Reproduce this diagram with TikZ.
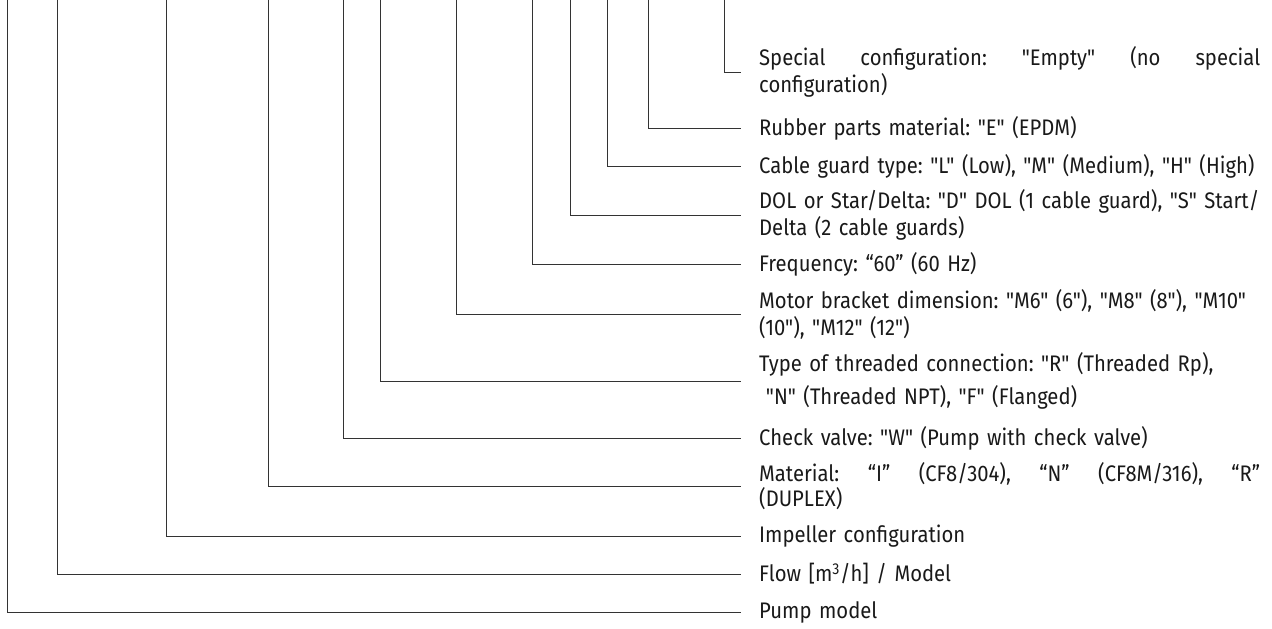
\documentclass[tikz,border=0pt]{standalone}
\usepackage{fontspec}
\setmainfont{Fira Sans}[Ligatures=TeXOff, FakeStretch=0.9]

\begin{document}
\begin{tikzpicture}[x=1pt, y=-1pt,
    lbl/.style={anchor=west, inner sep=0pt, text width=530pt, align=left,
        font=\fontsize{22.5}{27}\selectfont\frenchspacing, text=black!90},
    lead/.style={line width=0.9pt, draw=black!80}]
    \useasboundingbox (0,0) rectangle (1272,629);

    % Top ends of the leaders
    \coordinate (tpump) at (7,0);
    \coordinate (tflow) at (57,0);
    \coordinate (timp) at (166,0);
    \coordinate (tmat) at (268,0);
    \coordinate (tcheck) at (343,0);
    \coordinate (tthread) at (380,0);
    \coordinate (tmotor) at (456,0);
    \coordinate (tfreq) at (532,0);
    \coordinate (tdol) at (570,0);
    \coordinate (tcable) at (607,0);
    \coordinate (trubber) at (648,0);
    \coordinate (tspecial) at (724,0);

    % Labels
    \node[lbl] (special) at (759,72) {\makebox[501pt][l]{Special\hfill configuration:\hfill "Empty"\hfill (no\hfill special}\\configuration)};
    \node[lbl] (rubber) at (759,128) {Rubber parts material: "E" (EPDM)};
    \node[lbl] (cable) at (759,166) {Cable guard type: "L" (Low), "M" (Medium), "H" (High)};
    \node[lbl] (dol) at (759,215) {DOL or Star/Delta: "D" DOL (1 cable guard), "S" Start/\\Delta (2 cable guards)};
    \node[lbl] (freq) at (759,264) {Frequency: “60” (60 Hz)};
    \node[lbl] (motor) at (759,314) {Motor bracket dimension: "M6" (6"), "M8" (8"), "M10"\\(10"), "M12" (12")};
    \node[lbl] (thread) at (759,381) {Type of threaded connection: "R" (Threaded Rp),\\[6pt]\hspace*{0.3em}"N" (Threaded NPT), "F" (Flanged)};
    \node[lbl] (check) at (759,438) {Check valve: "W" (Pump with check valve)};
    \node[lbl] (mat) at (759,486) {\makebox[501pt][l]{Material:\hfill “I”\hfill (CF8/304),\hfill “N”\hfill (CF8M/316),\hfill “R”}\\[-2pt](DUPLEX)};
    \node[lbl] (imp) at (759,536) {Impeller configuration};
    \node[lbl] (flow) at (759,574) {Flow [m\textsuperscript{3}/h] / Model};
    \node[lbl] (pump) at (759,612) {Pump model};

    % Leaders
    \draw[lead] (tspecial) |- ([xshift=-18pt]special.west);
    \draw[lead] (trubber) |- ([xshift=-18pt]rubber.west);
    \draw[lead] (tcable) |- ([xshift=-18pt]cable.west);
    \draw[lead] (tdol) |- ([xshift=-18pt]dol.west);
    \draw[lead] (tfreq) |- ([xshift=-18pt]freq.west);
    \draw[lead] (tmotor) |- ([xshift=-18pt]motor.west);
    \draw[lead] (tthread) |- ([xshift=-18pt]thread.west);
    \draw[lead] (tcheck) |- ([xshift=-18pt]check.west);
    \draw[lead] (tmat) |- ([xshift=-18pt]mat.west);
    \draw[lead] (timp) |- ([xshift=-18pt]imp.west);
    \draw[lead] (tflow) |- ([xshift=-18pt]flow.west);
    \draw[lead] (tpump) |- ([xshift=-18pt]pump.west);
\end{tikzpicture}
\end{document}
